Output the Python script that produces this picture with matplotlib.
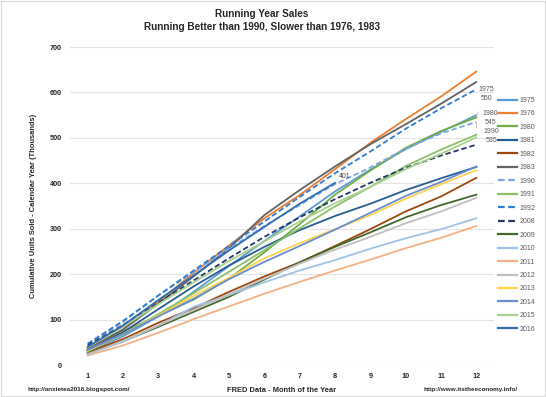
import numpy as np
import matplotlib.pyplot as plt

plt.rcParams['font.family'] = ['Liberation Sans', 'DejaVu Sans']

months = list(range(1, 13))

# cumulative new home sales, thousands
years = ['1975', '1976', '1980', '1981', '1982', '1983', '1990', '1991', '1992',
         '2008', '2009', '2010', '2011', '2012', '2013', '2014', '2015', '2016']

sales = {
    '1975': [29, 63, 107, 161, 218, 273, 327, 382, 430, 475, 513, 550],
    '1976': [35, 78, 139, 203, 263, 323, 374, 431, 489, 541, 591, 646],
    '1980': [33, 74, 108, 144, 190, 248, 310, 375, 428, 478, 515, 545],
    '1981': [32, 72, 123, 173, 219, 260, 297, 328, 355, 385, 411, 436],
    '1982': [28, 57, 93, 125, 161, 195, 226, 262, 299, 338, 371, 412],
    '1983': [35, 78, 135, 195, 257, 330, 385, 437, 486, 530, 575, 623],
    '1990': [45, 95, 153, 205, 256, 306, 352, 398, 435, 476, 510, 535],
    '1991': [30, 67, 112, 158, 205, 253, 301, 349, 392, 438, 474, 507],
    '1992': [47, 97, 153, 208, 262, 316, 370, 422, 470, 520, 565, 607],
    '2008': [43, 88, 137, 186, 235, 282, 325, 365, 401, 434, 461, 485],
    '2009': [25, 52, 84, 117, 150, 188, 226, 260, 292, 325, 352, 375],
    '2010': [24, 51, 87, 128, 154, 182, 208, 231, 256, 279, 299, 323],
    '2011': [21, 43, 71, 101, 129, 157, 183, 208, 232, 257, 280, 306],
    '2012': [23, 53, 87, 121, 156, 190, 223, 254, 282, 312, 338, 368],
    '2013': [32, 68, 109, 152, 192, 235, 268, 299, 330, 366, 398, 429],
    '2014': [33, 68, 107, 146, 189, 227, 262, 298, 335, 372, 403, 437],
    '2015': [39, 84, 134, 182, 229, 272, 316, 356, 392, 431, 465, 501],
    '2016': [40, 87, 143, 197, 252, 304, 355, 401],
}

colors = {
    '1975': '#5B9BD5', '1976': '#ED7D31', '1980': '#70AD47', '1981': '#255E91',
    '1982': '#9E480E', '1983': '#636363', '1990': '#7DA7E0', '1991': '#8CC168',
    '1992': '#2F7BD3', '2008': '#203864', '2009': '#43682B', '2010': '#9DC3E6',
    '2011': '#F4B183', '2012': '#BFBFBF', '2013': '#FFD34D', '2014': '#698ED0',
    '2015': '#A9D18E', '2016': '#2E6DB4',
}
dashed = ['1990', '1992', '2008']

fig = plt.figure(figsize=(5.46, 3.97), dpi=100)
ax = fig.add_axes([70/546, 32/397, 424/546, 318/397])

for y in years:
    vals = sales[y]
    ls = (0, (3, 1.6)) if y in dashed else '-'
    ax.plot(months[:len(vals)], vals, color=colors[y], lw=1.3, ls=ls, label=y)

ax.set_xlim(0.5, 12.5)
ax.set_ylim(0, 700)
ax.set_xticks(months)
ax.set_yticks(range(0, 701, 100))
ax.grid(axis='y', color='#E3E3E3', lw=0.8)
ax.set_axisbelow(True)
for s in ax.spines.values():
    s.set_visible(False)
ax.tick_params(length=0, labelsize=5.2, colors='#262626', pad=6)
for t in ax.get_xticklabels() + ax.get_yticklabels():
    t.set_fontweight('bold')

ax.set_xlabel('FRED Data - Month of the Year', fontsize=5.4, fontweight='bold',
              color='#262626', labelpad=5)
ax.set_ylabel('Cumulative Units Sold - Calendar Year (Thousands)', fontsize=5.4,
              fontweight='bold', color='#262626', labelpad=9)

# data labels on the right end
lab_kw = dict(fontsize=5, color='#595959', ha='center', va='center',
              annotation_clip=False, linespacing=1.4)
ax.annotate('1975\n550', xy=(12, sales['1975'][-1]), xytext=(12.28, 597),
            arrowprops=dict(arrowstyle='-', color='#BFBFBF', lw=0.6,
                            shrinkA=6, shrinkB=0), **lab_kw)
ax.annotate('1980\n545', xy=(12, sales['1980'][-1]), xytext=(12.4, 544), **lab_kw)
ax.annotate('1990\n535', xy=(12, sales['1990'][-1]), xytext=(12.42, 505),
            arrowprops=dict(arrowstyle='-', color='#BFBFBF', lw=0.6,
                            shrinkA=7, shrinkB=0,
                            connectionstyle='angle,angleA=180,angleB=90'), **lab_kw)
ax.annotate('401', xy=(8, sales['2016'][-1]), xytext=(8.12, 414), fontsize=5,
            color='#404040', ha='left', va='center')

leg = ax.legend(loc='upper left', bbox_to_anchor=((498 - 70)/424, 1 - (97 - 47)/318),
                frameon=False, fontsize=5, handlelength=2.8, handletextpad=0.3,
                labelspacing=0.93, borderaxespad=0, borderpad=0)
for line in leg.get_lines():
    line.set_linewidth(1.6)
for t in leg.get_texts():
    t.set_color('#595959')

fig.text(262/546, 1 - 14/397, 'Running Year Sales', ha='center', va='center',
         fontsize=7.2, fontweight='bold', color='#262626')
fig.text(262/546, 1 - 27/397, 'Running Better than 1990, Slower than 1976, 1983',
         ha='center', va='center', fontsize=7.2, fontweight='bold', color='#262626')
fig.text(28/546, 1 - 389/397, 'http://anxietea2016.blogspot.com/', ha='left',
         va='center', fontsize=4.6, fontweight='bold', color='#262626')
fig.text(423/546, 1 - 390/397, 'http://www.itstheeconomy.info/', ha='left',
         va='center', fontsize=4.6, fontweight='bold', color='#262626')

fig.patches.append(plt.Rectangle((0.002, 0.002), 0.996, 0.996, transform=fig.transFigure,
                                 fill=False, ec='#D9D9D9', lw=0.8))

fig.savefig('out.png', dpi=100)
